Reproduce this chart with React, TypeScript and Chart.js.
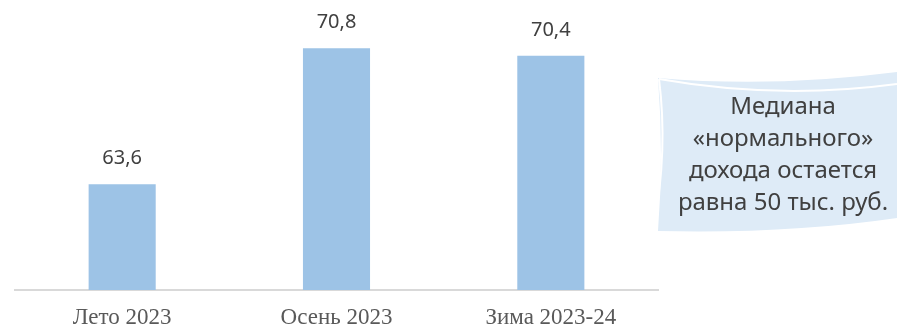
import React, { useEffect, useRef } from "react";
import { Chart, registerables } from "chart.js";

Chart.register(...registerables);

const categories = ["Лето 2023", "Осень 2023", "Зима 2023-24"];
const values = [63.6, 70.8, 70.4];
const calloutLines = ["Медиана", "«нормального»", "дохода остается", "равна 50 тыс. руб."];

const fmt = (v: number) => v.toFixed(1).replace(".", ",");

const valueLabels = {
  id: "valueLabels",
  afterDatasetsDraw(chart: any) {
    const ctx = chart.ctx;
    const meta = chart.getDatasetMeta(0);
    ctx.save();
    ctx.font = '20px "Noto Sans", sans-serif';
    ctx.fillStyle = "#404040";
    ctx.textAlign = "center";
    ctx.textBaseline = "middle";
    meta.data.forEach((bar: any, i: number) => {
      ctx.fillText(fmt(values[i]), bar.x, bar.y - 25.5);
    });
    ctx.restore();
  },
};

const callout = {
  id: "callout",
  afterDraw(chart: any) {
    const ctx = chart.ctx;
    const L = chart.chartArea.right;
    const W = chart.width;
    ctx.save();
    ctx.fillStyle = "#deebf7";
    ctx.beginPath();
    ctx.moveTo(L, 78);
    ctx.quadraticCurveTo(L + 115, 88, W, 72);
    ctx.lineTo(W, 218);
    ctx.quadraticCurveTo(L + 130, 234, L, 231);
    ctx.quadraticCurveTo(L + 6, 155, L, 78);
    ctx.closePath();
    ctx.fill();
    ctx.strokeStyle = "#ffffff";
    ctx.lineWidth = 2;
    ctx.beginPath();
    ctx.moveTo(L + 1, 79);
    ctx.quadraticCurveTo(L + 120, 100, W, 84);
    ctx.stroke();
    ctx.beginPath();
    ctx.moveTo(L + 1, 79);
    ctx.quadraticCurveTo(L + 10, 150, L - 4, 226);
    ctx.stroke();
    ctx.font = '24px "Noto Sans", sans-serif';
    ctx.fillStyle = "#404040";
    ctx.textAlign = "center";
    ctx.textBaseline = "middle";
    const cx = 783;
    const ys = [107, 139, 171, 203];
    calloutLines.forEach((t, i) => ctx.fillText(t, cx, ys[i]));
    ctx.restore();
  },
};

export default function App() {
  const ref = useRef<HTMLCanvasElement>(null);
  useEffect(() => {
    if (!ref.current) return;
    const chart = new Chart(ref.current, {
      type: "bar",
      data: {
        labels: categories,
        datasets: [
          {
            data: values,
            backgroundColor: "#9dc3e6",
            borderWidth: 0,
            barPercentage: 0.313,
            categoryPercentage: 1,
          },
        ],
      },
      options: {
        animation: false,
        responsive: true,
        maintainAspectRatio: false,
        layout: { padding: { left: 15, right: 239, top: 25.5, bottom: 0 } },
        plugins: { legend: { display: false }, tooltip: { enabled: false } },
        scales: {
          x: {
            grid: { display: false, drawTicks: false },
            border: { display: true, color: "#d9d9d9", width: 2 },
            ticks: {
              color: "#595959",
              font: { family: '"Liberation Serif", serif', size: 23 },
              padding: 14,
            },
            afterFit: (s: any) => {
              s.height = 37;
            },
          },
          y: {
            display: false,
            min: 58,
            max: 72,
          },
        },
      },
      plugins: [valueLabels, callout],
    });
    return () => chart.destroy();
  }, []);
  return (
    <div style={{ position: "absolute", left: 0, top: 0, width: 897, height: 327, background: "#fff" }}>
      <canvas ref={ref} />
    </div>
  );
}
